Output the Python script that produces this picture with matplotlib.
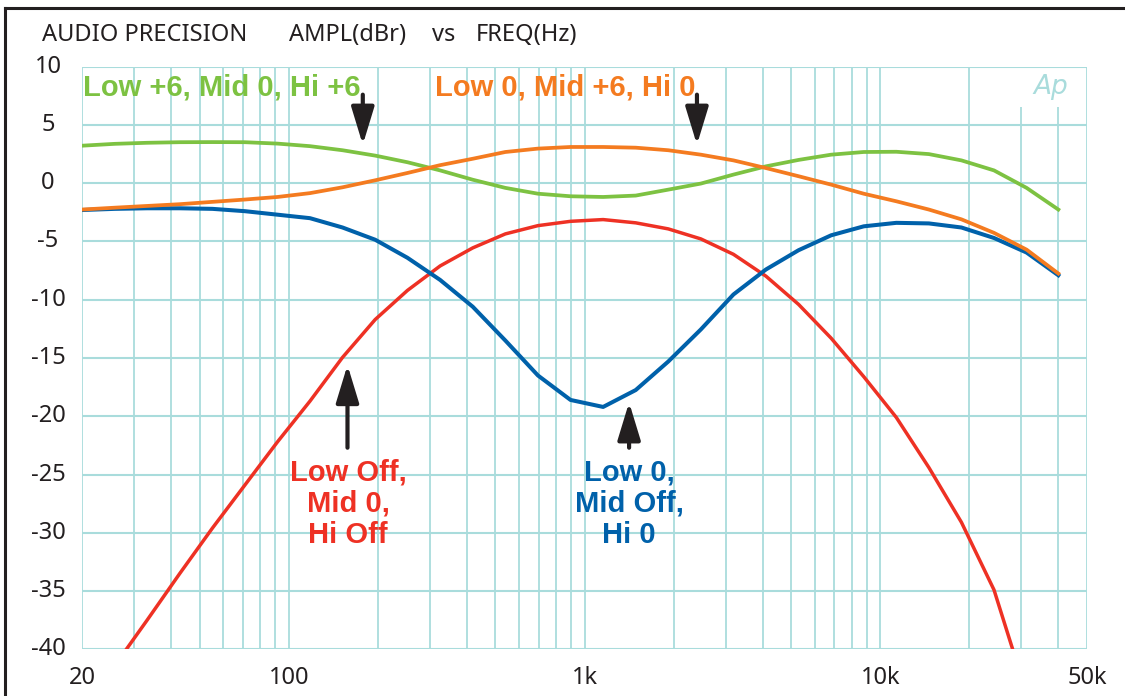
"""Audio Precision style EQ response plot: amplitude vs frequency for four tone settings."""

import matplotlib

matplotlib.use("Agg")

import matplotlib.pyplot as plt  # noqa: E402
from matplotlib.lines import Line2D  # noqa: E402


# sweep points (Hz)
FREQ_HZ = [20, 25.8, 33.2, 42.8, 55.2, 71.1, 91.6, 118, 152, 196, 252, 325,
           419, 540, 696, 897, 1156, 1490, 1920, 2474, 3188, 4108, 5294,
           6822, 8792, 11330, 14600, 18810, 24240, 31240, 40000]

# Low +6, Mid 0, Hi +6
GREEN_DB = [3.22, 3.38, 3.47, 3.52, 3.53, 3.52, 3.40, 3.18, 2.83, 2.37, 1.80,
            1.10, 0.30, -0.40, -0.90, -1.12, -1.18, -1.06, -0.55, -0.03, 0.74,
            1.45, 2.00, 2.45, 2.68, 2.70, 2.50, 1.96, 1.10, -0.40, -2.26]
# Low 0, Mid +6, Hi 0
ORANGE_DB = [-2.26, -2.10, -1.95, -1.80, -1.60, -1.40, -1.18, -0.85, -0.35,
             0.25, 0.88, 1.55, 2.10, 2.68, 2.97, 3.11, 3.11, 3.05, 2.83, 2.45,
             1.96, 1.30, 0.60, -0.12, -0.90, -1.55, -2.26, -3.10, -4.26,
             -5.70, -7.75]
# Low 0, Mid Off, Hi 0
BLUE_DB = [-2.30, -2.20, -2.15, -2.15, -2.20, -2.40, -2.70, -3.00, -3.80,
           -4.85, -6.40, -8.30, -10.60, -13.50, -16.50, -18.60, -19.20,
           -17.75, -15.30, -12.55, -9.55, -7.40, -5.75, -4.47, -3.70, -3.40,
           -3.45, -3.80, -4.70, -5.95, -7.90]
# Low Off, Mid 0, Hi Off
RED_DB = [-45.5, -41.4, -37.5, -33.5, -29.6, -25.9, -22.2, -18.7, -14.95,
          -11.7, -9.2, -7.1, -5.55, -4.35, -3.64, -3.27, -3.12, -3.40, -3.92,
          -4.78, -6.10, -7.98, -10.40, -13.30, -16.60, -20.10, -24.40,
          -29.10, -34.90, -43.8, -52.0]

Y_TICKS = [10, 5, 0, -5, -10, -15, -20, -25, -30, -35, -40]
X_TICKS = [20, 100, 1000, 10000, 50000]
X_TICK_LABELS = ["20", "100", "1k", "10k", "50k"]
GRID_FREQS = [20, 30, 40, 50, 60, 70, 80, 90,
              100, 200, 300, 400, 500, 600, 700, 800, 900,
              1000, 2000, 3000, 4000, 5000, 6000, 7000, 8000, 9000,
              10000, 20000, 30000, 40000, 50000]

GREEN = "#7dc242"
ORANGE = "#f47b20"
BLUE = "#0061aa"
RED = "#ee3124"
GRID = "#a9dcdc"
INK = "#231f20"

LABEL_FONT = ["Liberation Sans", "DejaVu Sans"]
PLAIN_FONT = ["Noto Sans", "DejaVu Sans"]

W, H = 1125, 696
fig = plt.figure(figsize=(W / 100, H / 100), dpi=100)
fig.patch.set_facecolor("white")

left, right, top, bottom = 82, 1087, 66.7, 649.3
ax = fig.add_axes((left / W, 1 - bottom / H, (right - left) / W, (bottom - top) / H))
ax.set_xscale("log")
ax.set_xlim(20, 50000)
ax.set_ylim(-40, 10)
for spine in ax.spines.values():
    spine.set_visible(False)
ax.set_xticks([])
ax.set_yticks([])
ax.minorticks_off()

# grid (two top-right lines stop short under the Ap logo)
for f in GRID_FREQS:
    y_top = 6.5 if f in (30000, 40000) else 10
    ax.vlines(f, -40, y_top, color=GRID, lw=1.3, zorder=1)
ax.hlines(Y_TICKS, 20, 50000, color=GRID, lw=1.5, zorder=1)

ax.plot(FREQ_HZ, RED_DB, color=RED, lw=2.5, zorder=3)
ax.plot(FREQ_HZ, GREEN_DB, color=GREEN, lw=2.7, zorder=4)
ax.plot(FREQ_HZ, BLUE_DB, color=BLUE, lw=2.9, zorder=5)
ax.plot(FREQ_HZ, ORANGE_DB, color=ORANGE, lw=2.7, zorder=6)

# tick labels
ytrans = ax.get_yaxis_transform()
for v in Y_TICKS:
    ax.text(-0.0338, v, f"{v}", transform=ytrans, ha="center", va="center",
            fontsize=17, family=PLAIN_FONT, color=INK)
xtrans = ax.get_xaxis_transform()
for f, lab in zip(X_TICKS, X_TICK_LABELS):
    ax.text(f, -0.049, lab, transform=xtrans, ha="center", va="center",
            fontsize=17, family=PLAIN_FONT, color=INK)

# header
for x_px, word in [(42, "AUDIO PRECISION"), (289, "AMPL(dBr)"),
                   (432, "vs"), (476, "FREQ(Hz)")]:
    fig.text(x_px / W, 1 - 35 / H, word, ha="left", va="center",
             fontsize=17, family=PLAIN_FONT, color=INK)

ax.text(0.964, 0.965, "Ap", transform=ax.transAxes, ha="center",
        va="center", fontsize=19, style="italic", weight="light",
        color=GRID, family=["DejaVu Sans"])

# labels and arrows
label_kw = dict(fontsize=21, weight="bold", family=LABEL_FONT)
ax.text(20.2, 8.25, "Low +6, Mid 0, Hi +6", ha="left", va="center",
        color=GREEN, **label_kw)
ax.text(312, 8.25, "Low 0, Mid +6, Hi 0", ha="left", va="center",
        color=ORANGE, **label_kw)
ax.text(159, -27.5, "Low Off,\nMid 0,\nHi Off", ha="center", va="center",
        color=RED, linespacing=1.15, **label_kw)
ax.text(1415, -27.5, "Low 0,\nMid Off,\nHi 0", ha="center", va="center",
        color=BLUE, linespacing=1.15, **label_kw)

arrow_style = dict(arrowstyle="-|>,head_length=23,head_width=7",
                   color=INK, lw=3, shrinkA=0, shrinkB=0, mutation_scale=1)
for x, y_tail, y_tip in [(178, 7.6, 3.3), (2400, 7.6, 3.3),
                         (158, -22.7, -15.6), (1415, -22.7, -18.8)]:
    ax.annotate("", xy=(x, y_tip), xytext=(x, y_tail),
                arrowprops=arrow_style, zorder=7)

# frame (top and left edges only)
fig.add_artist(Line2D([5 / W, 1], [1 - 8 / H, 1 - 8 / H], color=INK, lw=2.2))
fig.add_artist(Line2D([5 / W, 5 / W], [0, 1 - 8 / H], color=INK, lw=2.2))

fig.savefig("out.png", dpi=100, facecolor="white")
